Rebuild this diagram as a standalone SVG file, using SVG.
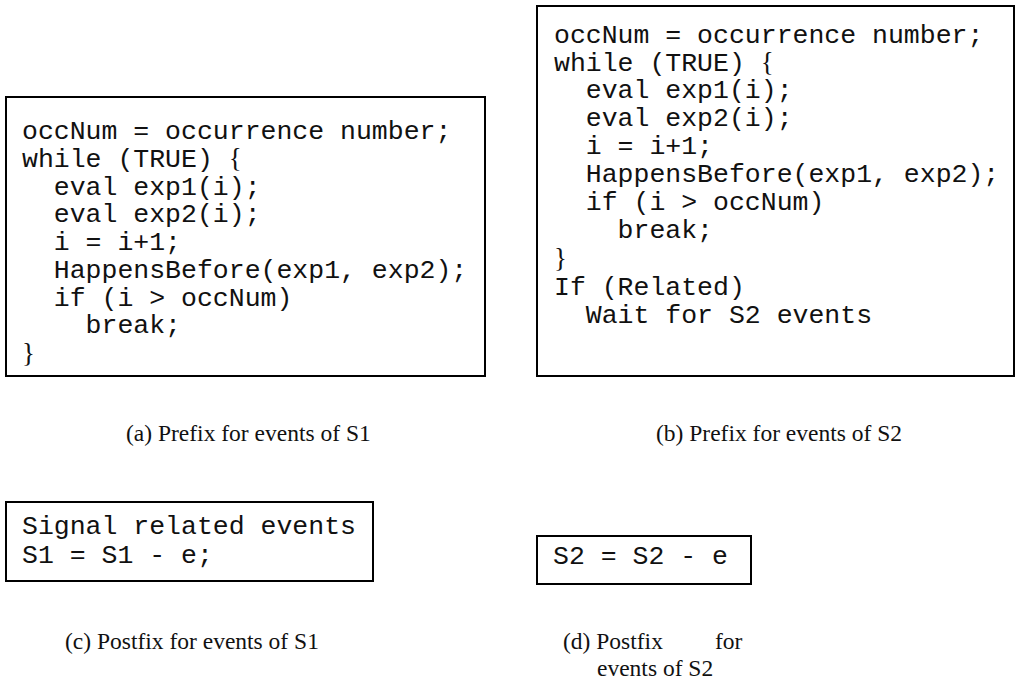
<svg xmlns="http://www.w3.org/2000/svg" width="1017" height="685" viewBox="0 0 1017 685">
  <style>
    .box { fill: #ffffff; stroke: #000000; stroke-width: 2; }
    .code { font-family: "Liberation Mono", "Courier New", monospace; font-size: 26.5px; fill: #111111; white-space: pre; }
    .brace { font-family: "Liberation Serif", "Times New Roman", serif; font-size: 27px; }
    .cap { font-family: "Liberation Serif", "Times New Roman", serif; font-size: 23.5px; fill: #111111; }
  </style>
  <rect width="1017" height="685" fill="#ffffff"/>

  <!-- (a) prefix for S1 -->
  <g id="prefix-s1">
    <rect class="box" x="6" y="97" width="479" height="279"/>
    <text class="code" x="22" y="139">occNum = occurrence number;</text>
    <text class="code" x="22" y="167">while (TRUE) <tspan class="brace">{</tspan></text>
    <text class="code" x="22" y="195">  eval exp1(i);</text>
    <text class="code" x="22" y="222">  eval exp2(i);</text>
    <text class="code" x="22" y="250">  i = i+1;</text>
    <text class="code" x="22" y="278">  HappensBefore(exp1, exp2);</text>
    <text class="code" x="22" y="306">  if (i &gt; occNum)</text>
    <text class="code" x="22" y="333">    break;</text>
    <text class="code" x="22" y="362"><tspan class="brace">}</tspan></text>
  </g>

  <!-- (b) prefix for S2 -->
  <g id="prefix-s2">
    <rect class="box" x="537" y="6" width="477" height="370"/>
    <text class="code" x="554" y="43">occNum = occurrence number;</text>
    <text class="code" x="554" y="71">while (TRUE) <tspan class="brace">{</tspan></text>
    <text class="code" x="554" y="98">  eval exp1(i);</text>
    <text class="code" x="554" y="126">  eval exp2(i);</text>
    <text class="code" x="554" y="154">  i = i+1;</text>
    <text class="code" x="554" y="182">  HappensBefore(exp1, exp2);</text>
    <text class="code" x="554" y="210">  if (i &gt; occNum)</text>
    <text class="code" x="554" y="238">    break;</text>
    <text class="code" x="554" y="267"><tspan class="brace">}</tspan></text>
    <text class="code" x="554" y="295">If (Related)</text>
    <text class="code" x="554" y="323">  Wait for S2 events</text>
  </g>

  <!-- (c) postfix for S1 -->
  <g id="postfix-s1">
    <rect class="box" x="6" y="502" width="367" height="79"/>
    <text class="code" x="22" y="534">Signal related events</text>
    <text class="code" x="22" y="563">S1 = S1 - e;</text>
  </g>

  <!-- (d) postfix for S2 -->
  <g id="postfix-s2">
    <rect class="box" x="537" y="536" width="214" height="48"/>
    <text class="code" x="553" y="564">S2 = S2 - e</text>
  </g>

  <!-- captions -->
  <g id="captions">
    <text class="cap" x="126" y="441">(a) Prefix for events of S1</text>
    <text class="cap" x="656" y="441">(b) Prefix for events of S2</text>
    <text class="cap" x="65" y="649">(c) Postfix for events of S1</text>
    <text class="cap" x="563" y="649">(d) Postfix</text>
    <text class="cap" x="715" y="649">for</text>
    <text class="cap" x="597" y="676">events of S2</text>
  </g>

  <g id="connectors"/>
</svg>
